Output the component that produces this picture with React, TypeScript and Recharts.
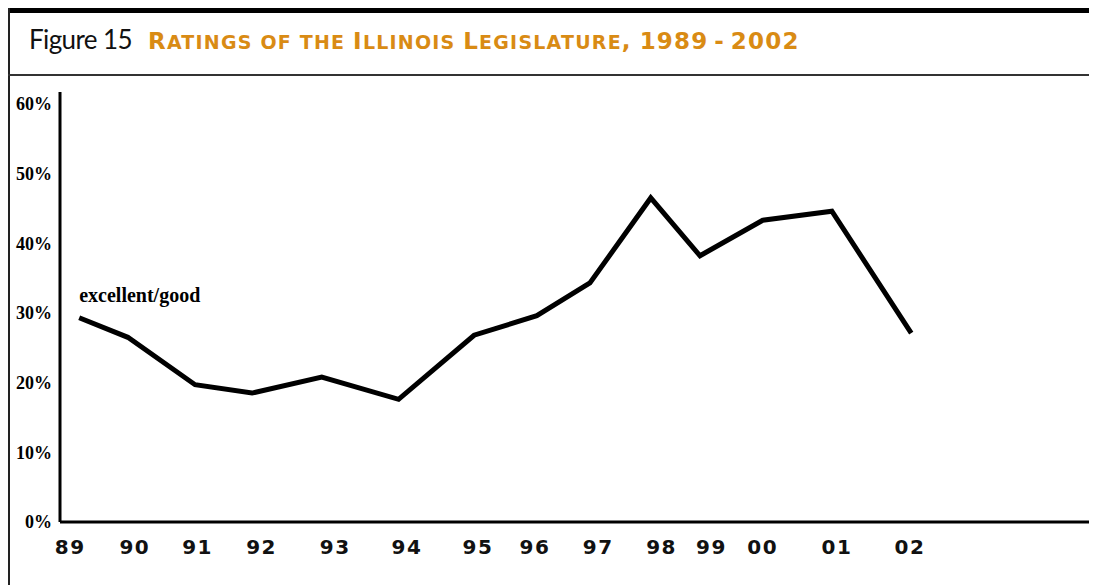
import { Line, LineChart, XAxis, YAxis } from 'recharts';

// survey timing (fractional year, 89 = 1989) and share rating "excellent/good" (%)
const surveyTimes = [89.0, 89.76, 90.81, 91.7, 92.79, 93.99, 95.17, 96.15, 96.98, 97.93, 98.7, 99.68, 100.76, 102.0];
const excellentGood = [29.3, 26.5, 19.7, 18.5, 20.8, 17.6, 26.8, 29.6, 34.3, 46.5, 38.2, 43.3, 44.6, 27.1];

const yearTickPositions = [88.86, 89.87, 90.85, 91.85, 93.0, 94.12, 95.23, 96.12, 97.11, 98.1, 98.88, 99.68, 100.84, 101.98];
const yearTickLabels = ['89', '90', '91', '92', '93', '94', '95', '96', '97', '98', '99', '00', '01', '02'];
const percentTicks = [0, 10, 20, 30, 40, 50, 60];

const seriesName = 'excellent/good';
const figureNumber = 'Figure 15';
const figureTitle = 'Ratings of the Illinois Legislature, 1989\u2009-\u20092002';

const chartData = surveyTimes.map((t, i) => ({ t, value: excellentGood[i] }));

// hand-made small caps: capitals and digits full size, the rest as smaller capitals
function smallCaps(text: string, big: number, small: number) {
  return text.split('').map((ch, i) => {
    const isSmall = ch !== ch.toUpperCase() || ch === ' ';
    return (
      <tspan key={i} fontSize={isSmall ? small : big}>
        {ch.toUpperCase()}
      </tspan>
    );
  });
}

const SeriesLabel = (props: any) => {
  if (props.index !== 0) return null;
  return (
    <text
      x={props.x}
      y={props.y - 16}
      fontFamily="'Liberation Serif', serif"
      fontWeight="bold"
      fontSize={20}
      fill="#000"
    >
      {seriesName}
    </text>
  );
};

export default function App() {
  return (
    <div
      style={{
        position: 'relative',
        left: -8,
        top: -8,
        width: 1097,
        height: 585,
        overflow: 'hidden',
        background: '#fff',
      }}
    >
      {/* frame */}
      <div style={{ position: 'absolute', left: 8, top: 6, width: 1087, height: 1, background: '#999' }} />
      <div style={{ position: 'absolute', left: 8, top: 7, width: 1087, height: 6, background: '#000' }} />
      <div style={{ position: 'absolute', left: 8, top: 7, width: 2, height: 600, background: '#222' }} />
      <div style={{ position: 'absolute', left: 1093, top: 7, width: 2, height: 600, background: '#222' }} />
      <div style={{ position: 'absolute', left: 8, top: 74, width: 1087, height: 2, background: '#333' }} />

      <svg width={1097} height={80} style={{ position: 'absolute', left: 0, top: 0 }}>
        <text x={29} y={49} fontFamily="Lato, sans-serif" fontSize={26} fill="#111" letterSpacing={-0.6}>
          {figureNumber}
        </text>
        <text
          x={148}
          y={49}
          fontFamily="'DejaVu Sans', sans-serif"
          fontWeight="bold"
          fill="#D98B14"
          letterSpacing={1.2}
        >
          {smallCaps(figureTitle, 23, 19)}
        </text>
      </svg>

      <div style={{ position: 'absolute', left: 0, top: 0 }}>
        <LineChart
          width={1097}
          height={585}
          data={chartData}
          margin={{ top: 92, right: 4, bottom: 0, left: 0 }}
        >
          <XAxis
            dataKey="t"
            type="number"
            domain={[88.7, 104.84]}
            allowDataOverflow
            ticks={yearTickPositions}
            interval={0}
            tickFormatter={(_v: number, i: number) => yearTickLabels[i]}
            height={63}
            tickLine={false}
            tickSize={0}
            tickMargin={18}
            axisLine={{ stroke: '#000', strokeWidth: 3 }}
            tick={{
              fill: '#111',
              fontSize: 20,
              fontWeight: 'bold',
              fontFamily: "'DejaVu Sans', sans-serif",
              letterSpacing: 1.5,
            }}
          />
          <YAxis
            type="number"
            domain={[0, 61.7]}
            allowDataOverflow
            ticks={percentTicks}
            interval={0}
            tickFormatter={(v: number) => `${v}%`}
            width={60}
            tickLine={false}
            tickSize={0}
            tickMargin={8}
            axisLine={{ stroke: '#000', strokeWidth: 3 }}
            tick={{
              fill: '#000',
              fontSize: 18,
              fontWeight: 'bold',
              fontFamily: "'Liberation Serif', serif",
            }}
          />
          <Line
            type="linear"
            dataKey="value"
            stroke="#000"
            strokeWidth={5}
            dot={false}
            activeDot={false}
            label={SeriesLabel}
            isAnimationActive={false}
          />
        </LineChart>
      </div>
    </div>
  );
}
